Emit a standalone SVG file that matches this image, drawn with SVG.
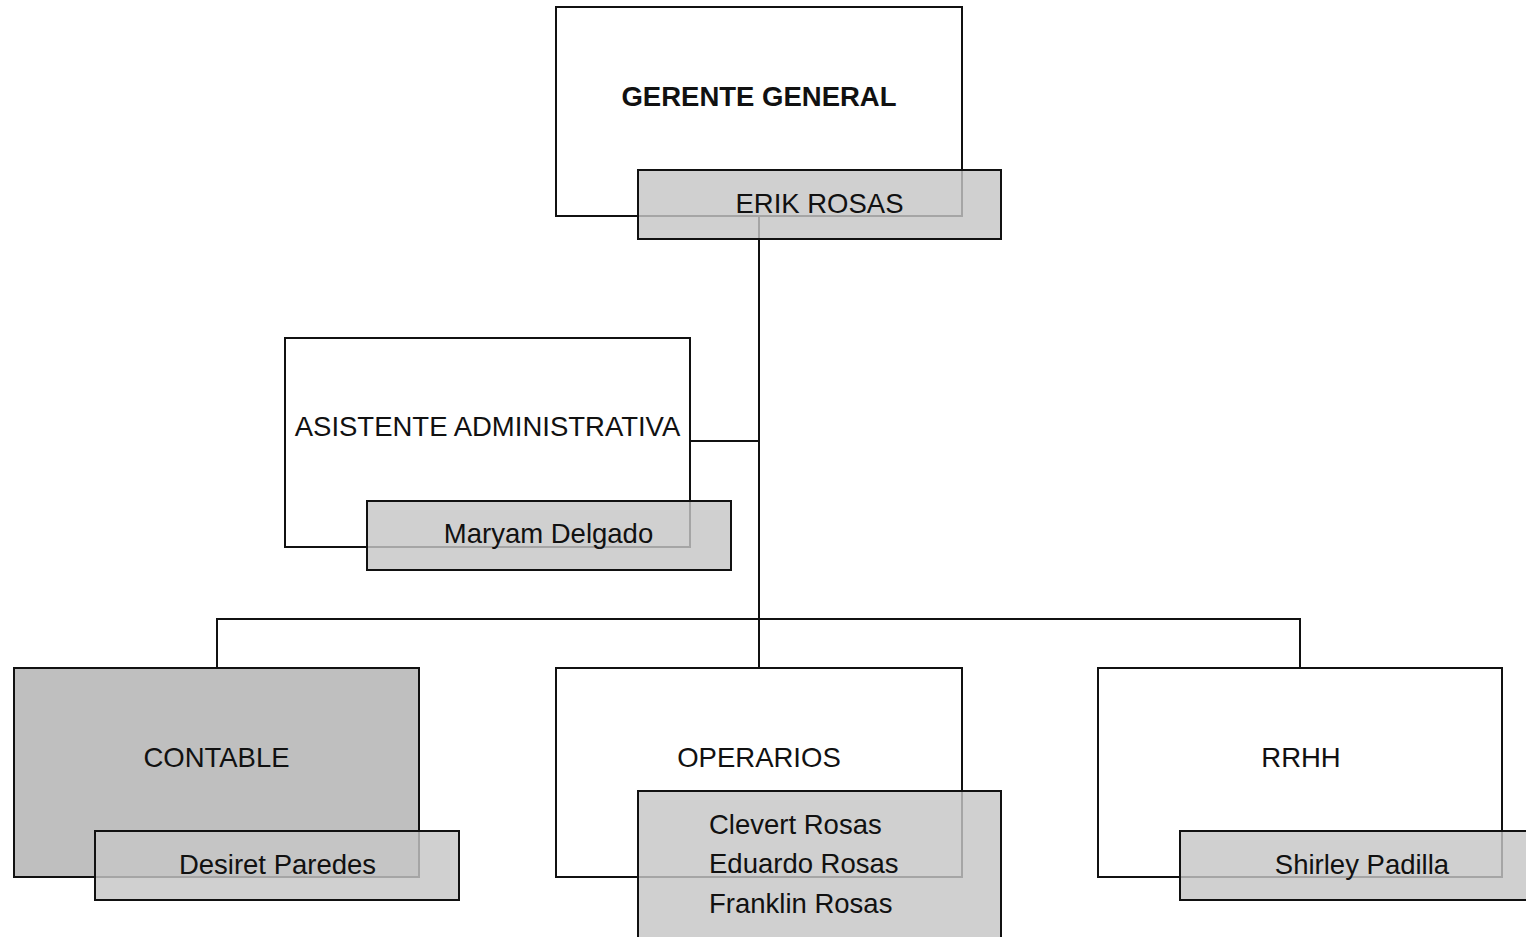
<svg xmlns="http://www.w3.org/2000/svg" width="1526" height="937" viewBox="0 0 1526 937">
<style>
.box{fill:#ffffff;stroke:#111111;stroke-width:2}
.dark{fill:#bfbfbf}
.name{fill:#c6c6c6;fill-opacity:0.82;stroke:#111111;stroke-width:2}
.t{font-family:"Liberation Sans",Arial,sans-serif;font-size:27.5px;fill:#111111}
.b{font-weight:bold}
.c{text-anchor:middle}
.conn{fill:none;stroke:#111111;stroke-width:2}
</style>
<rect width="1526" height="937" fill="#ffffff"/>
<g id="gerente-box">
<rect class="box" x="556" y="7" width="406" height="209"/>
<text class="t b c" x="759" y="106">GERENTE GENERAL</text>
</g>
<g id="asistente-box">
<rect class="box" x="285" y="338" width="405" height="209"/>
<text class="t c" x="487.5" y="436">ASISTENTE ADMINISTRATIVA</text>
</g>
<g id="contable-box">
<rect class="box dark" x="14" y="668" width="405" height="209"/>
<text class="t c" x="216.5" y="767">CONTABLE</text>
</g>
<g id="operarios-box">
<rect class="box" x="556" y="668" width="406" height="209"/>
<text class="t c" x="759" y="767">OPERARIOS</text>
</g>
<g id="rrhh-box">
<rect class="box" x="1098" y="668" width="404" height="209"/>
<text class="t c" x="1301" y="767">RRHH</text>
</g>
<g id="connectors">
<path class="conn" d="M759 216 V619" stroke-width="3"/>
<path class="conn" d="M690 441 H759"/>
<path class="conn" d="M217 668 V619 H1300 V668"/>
<path class="conn" d="M759 619 V668"/>
</g>
<g id="gerente-name">
<rect class="name" x="638" y="170" width="363" height="69"/>
<text class="t c" x="819.5" y="213">ERIK ROSAS</text>
</g>
<g id="asistente-name">
<rect class="name" x="367" y="501" width="364" height="69"/>
<text class="t c" x="548.5" y="543">Maryam Delgado</text>
</g>
<g id="contable-name">
<rect class="name" x="95" y="831" width="364" height="69"/>
<text class="t c" x="277.5" y="874">Desiret Paredes</text>
</g>
<g id="operarios-name">
<rect class="name" x="638" y="791" width="363" height="160"/>
<text class="t" x="709" y="834">Clevert Rosas</text>
<text class="t" x="709" y="873">Eduardo Rosas</text>
<text class="t" x="709" y="913">Franklin Rosas</text>
</g>
<g id="rrhh-name">
<rect class="name" x="1180" y="831" width="364" height="69"/>
<text class="t c" x="1362" y="874">Shirley Padilla</text>
</g>
</svg>
